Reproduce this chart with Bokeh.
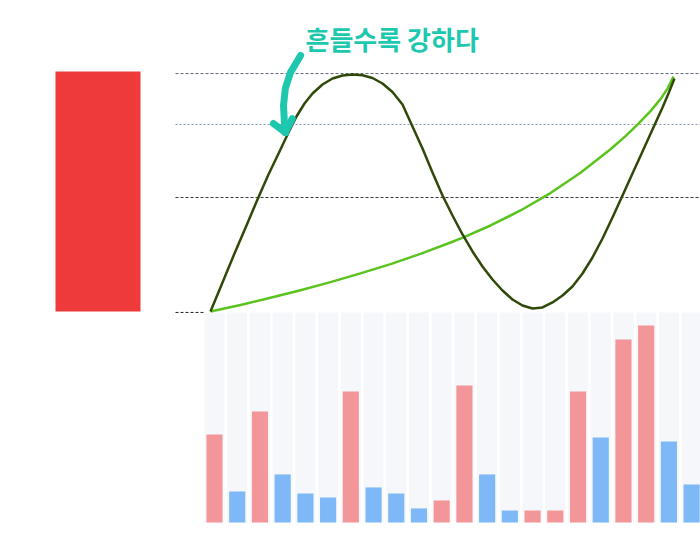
from bokeh.plotting import figure
from bokeh.models import Range1d, ColumnDataSource
from bokeh.core.properties import value
from bokeh.embed import file_html
from bokeh.resources import INLINE

# ---- data ----
# dark wave curve (x: 0..100 horizontal, v: 0..100 vertical)
wave_x = [0, 2.60, 5.19, 7.79, 10.17, 12.55, 14.94, 16.88, 18.61, 20.35, 22.08, 24.24,
          26.41, 28.57, 30.74, 32.90, 35.06, 37.23, 39.39, 41.56, 43.72, 45.89, 48.05,
          50.22, 52.38, 54.55, 56.71, 58.87, 61.04, 63.20, 65.37, 67.53, 69.70, 71.86,
          74.03, 76.19, 78.35, 80.52, 82.68, 84.85, 87.01, 89.18, 91.34, 93.51, 95.67,
          97.84, 99.13, 100.43]
wave_v = [0, 12.24, 24.47, 36.29, 47.26, 57.81, 67.51, 75.53, 82.28, 87.76, 91.98, 95.78,
          98.31, 99.58, 100.0, 99.66, 98.52, 96.20, 92.62, 87.34, 78.06, 68.78, 58.65,
          48.95, 40.51, 32.49, 25.32, 18.99, 13.50, 8.86, 5.06, 2.53, 1.27, 1.69,
          3.80, 6.75, 10.55, 16.03, 22.78, 30.80, 39.66, 48.95, 58.23, 67.51, 76.79,
          86.08, 91.98, 98.31]
# green growth curve
grow_x = [0, 6.49, 12.99, 19.48, 25.97, 32.47, 38.96, 45.45, 51.95, 54.76, 60.61, 67.10,
          73.59, 80.09, 86.58, 89.83, 92.42, 95.24, 97.40, 98.92, 100.22]
grow_v = [0, 2.78, 5.82, 8.99, 12.41, 16.08, 20.0, 24.30, 29.11, 31.31, 36.29, 42.62,
          49.96, 58.57, 68.44, 74.01, 78.82, 84.56, 89.62, 94.05, 99.11]
# reference levels
levels = [100.4, 78.9, 48.1]
level_colors = ["#5d6684", "#8b9bb8", "#2f3640"]
level_dash = ["3 2", "2 2", "3 2"]
base_level = -0.4
# big red block
block_value = 101.3
# bars
bar_values = [41.9, 14.8, 52.9, 22.9, 13.8, 11.9, 62.4, 16.7, 13.8, 6.7, 10.5,
              65.2, 22.9, 5.7, 5.7, 5.7, 62.4, 40.5, 87.1, 93.8, 38.6, 18.1]
bar_kind = ["R", "B", "R", "B", "B", "B", "R", "B", "B", "B", "R",
            "R", "B", "B", "R", "R", "R", "B", "R", "R", "B", "B"]
bar_max = 100.0
annotation = "흔들수록 강하다"

W, H = 700, 547
p = figure(width=W, height=H, output_backend="svg", toolbar_location=None,
           x_axis_type=None, y_axis_type=None, min_border=0,
           x_range=Range1d(-45.455, 106.061), y_range=Range1d(-99.58, 131.22))
p.outline_line_color = None
p.background_fill_color = "white"
p.border_fill_color = "white"
p.extra_x_ranges = {"bx": Range1d(-9.419, 21.391)}
p.extra_y_ranges = {"by": Range1d(-11.905, 248.57)}

# red block
p.vbar(x=[-24.35], width=18.4, top=[block_value], bottom=[0], fill_color="#ef3a3b", line_color=None)

# level lines
x_left = -7.576
for lv, c, d in zip(levels, level_colors, level_dash):
    p.line(x=[x_left, 110], y=[lv, lv], line_color=c, line_dash=d, line_width=1)
p.line(x=[x_left, -1.515], y=[base_level, base_level], line_color="#222222", line_dash="3 2", line_width=1)

# stripes and bars
idx = list(range(len(bar_values)))
p.vbar(x=idx, width=0.88, top=[bar_max] * len(idx), bottom=0, fill_color="#f5f7fa",
       line_color=None, x_range_name="bx", y_range_name="by")
colors = ["#f39699" if k == "R" else "#7eb8f6" for k in bar_kind]
src = ColumnDataSource(dict(x=idx, top=bar_values, color=colors))
p.vbar(x="x", width=0.71, top="top", bottom=0, fill_color="color", line_color=None,
       source=src, x_range_name="bx", y_range_name="by")

# curves
p.line(grow_x, grow_v, line_color="#5ac31e", line_width=2.5, line_join="round")
p.line(wave_x, wave_v, line_color="#2f4a08", line_width=2.5, line_join="round")

# annotation text
p.text(x=[20.56], y=[115.2], text=[annotation], text_font=value("Noto Sans CJK KR"),
       text_font_style="bold", text_font_size="26px", text_color="#1ec8ae",
       text_baseline="middle", text_align="left")

# arrow (curved stroke + head)
arrow_x = [19.5, 17.3, 16.2, 15.8, 16.0, 16.2]
arrow_v = [108.0, 100.8, 94.1, 86.9, 79.7, 75.5]
p.line(arrow_x, arrow_v, line_color="#1ec8ae", line_width=7, line_cap="round", line_join="round")
p.multi_line(xs=[[13.6, 16.2], [16.2, 17.7]], ys=[[79.3, 75.5], [75.5, 81.4]],
             line_color="#1ec8ae", line_width=7, line_cap="round", line_join="round")

open("out.html", "w").write(file_html(p, INLINE))
